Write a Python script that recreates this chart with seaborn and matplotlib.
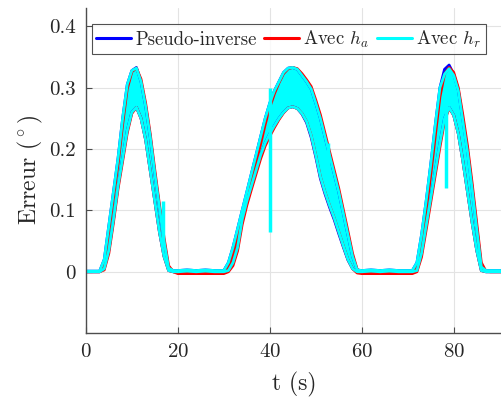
import matplotlib
matplotlib.use("Agg")
import matplotlib.pyplot as plt
import seaborn as sns

# time grid (s)
t = [0, 2,
     3, 4, 5, 6, 7, 8, 9, 10, 11, 12, 13, 14, 15, 16, 17, 18, 19,
     20, 22, 24, 26, 28,
     29, 30, 31, 32, 33, 34, 35, 36, 37, 38, 39, 40, 41, 42, 43, 44,
     45, 46, 47, 48, 49, 50, 51, 52, 53, 54, 55, 56, 57, 58, 59, 60,
     62, 64, 66, 68, 70,
     71, 72, 73, 74, 75, 76, 77, 78, 79, 80, 81, 82, 83, 84, 85, 86, 87, 88,
     90.5]

# Pseudo-inverse : upper / lower envelope of the oscillation
blue_hi = [0.001, 0.001,
           0.001, 0.02, 0.075, 0.13, 0.185, 0.25, 0.305, 0.328, 0.333, 0.31, 0.27, 0.22, 0.16, 0.105, 0.05, 0.006, 0.002,
           0.002, 0.003, 0.002, 0.003, 0.002,
           0.002, 0.002, 0.015, 0.04, 0.07, 0.1, 0.13, 0.16, 0.19, 0.22, 0.25, 0.275, 0.295, 0.31, 0.325, 0.332,
           0.333, 0.33, 0.32, 0.31, 0.298, 0.275, 0.25, 0.22, 0.19, 0.16, 0.13, 0.095, 0.06, 0.025, 0.003, 0.002,
           0.003, 0.002, 0.003, 0.002, 0.002,
           0.002, 0.015, 0.06, 0.115, 0.175, 0.24, 0.3, 0.33, 0.337, 0.322, 0.296, 0.247, 0.197, 0.137, 0.072, 0.008, 0.002, 0.002,
           0.002]
blue_lo = [0.0, 0.0,
           0.0, 0.005, 0.035, 0.085, 0.14, 0.185, 0.23, 0.26, 0.268, 0.25, 0.215, 0.165, 0.115, 0.065, 0.025, 0.002, 0.0,
           0.0, 0.001, 0.0, 0.001, 0.0,
           0.0, 0.0, 0.002, 0.015, 0.04, 0.085, 0.115, 0.14, 0.165, 0.19, 0.21, 0.225, 0.238, 0.25, 0.26, 0.267,
           0.269, 0.266, 0.257, 0.243, 0.219, 0.187, 0.152, 0.127, 0.105, 0.085, 0.062, 0.04, 0.019, 0.005, 0.0, 0.0,
           0.001, 0.0, 0.001, 0.0, 0.0,
           0.0, 0.002, 0.03, 0.075, 0.12, 0.165, 0.21, 0.25, 0.268, 0.255, 0.225, 0.18, 0.13, 0.08, 0.035, 0.002, 0.0, 0.0,
           0.0]

# Avec h_a
red_hi = [0.0, 0.0,
          0.0, 0.012, 0.065, 0.12, 0.175, 0.24, 0.298, 0.326, 0.332, 0.314, 0.275, 0.225, 0.166, 0.11, 0.056, 0.01, 0.0,
          -0.001, -0.001, -0.001, -0.001, -0.001,
          -0.001, -0.001, 0.006, 0.028, 0.058, 0.088, 0.118, 0.148, 0.178, 0.208, 0.24, 0.268, 0.29, 0.308, 0.323, 0.331,
          0.333, 0.331, 0.323, 0.313, 0.302, 0.28, 0.256, 0.226, 0.196, 0.166, 0.136, 0.101, 0.066, 0.03, 0.004, -0.001,
          -0.001, -0.001, -0.001, -0.001, -0.001,
          -0.001, 0.005, 0.045, 0.1, 0.158, 0.222, 0.285, 0.322, 0.333, 0.325, 0.3, 0.255, 0.205, 0.145, 0.08, 0.015, 0.001, 0.0,
          0.0]
red_lo = [0.0, 0.0,
          0.0, 0.003, 0.03, 0.08, 0.135, 0.18, 0.226, 0.258, 0.268, 0.25, 0.215, 0.165, 0.115, 0.065, 0.025, 0.002, 0.0,
          -0.003, -0.003, -0.003, -0.003, -0.003,
          -0.003, -0.003, 0.0, 0.01, 0.034, 0.077, 0.108, 0.134, 0.159, 0.184, 0.205, 0.221, 0.235, 0.248, 0.259, 0.267,
          0.269, 0.266, 0.258, 0.245, 0.222, 0.19, 0.155, 0.13, 0.108, 0.088, 0.065, 0.042, 0.02, 0.005, -0.002, -0.003,
          -0.003, -0.003, -0.003, -0.003, -0.003,
          -0.003, 0.0, 0.024, 0.068, 0.113, 0.158, 0.203, 0.245, 0.267, 0.255, 0.225, 0.18, 0.13, 0.08, 0.035, 0.002, 0.0, 0.0,
          0.0]

# Avec h_r
cyan_hi = [0.001, 0.001,
           0.001, 0.02, 0.075, 0.13, 0.185, 0.25, 0.305, 0.328, 0.332, 0.31, 0.27, 0.22, 0.16, 0.105, 0.05, 0.006, 0.002,
           0.002, 0.003, 0.002, 0.003, 0.002,
           0.002, 0.002, 0.015, 0.04, 0.07, 0.1, 0.13, 0.16, 0.19, 0.22, 0.25, 0.275, 0.295, 0.31, 0.325, 0.332,
           0.333, 0.33, 0.32, 0.31, 0.298, 0.275, 0.25, 0.22, 0.19, 0.16, 0.13, 0.095, 0.06, 0.025, 0.003, 0.002,
           0.003, 0.002, 0.003, 0.002, 0.002,
           0.002, 0.015, 0.06, 0.115, 0.175, 0.24, 0.3, 0.322, 0.331, 0.32, 0.295, 0.245, 0.195, 0.135, 0.07, 0.008, 0.002, 0.002,
           0.002]
cyan_lo = [0.0, 0.0,
           0.0, 0.005, 0.035, 0.085, 0.14, 0.185, 0.23, 0.26, 0.268, 0.25, 0.215, 0.165, 0.115, 0.065, 0.025, 0.002, 0.0,
           0.0, 0.001, 0.0, 0.001, 0.0,
           0.0, 0.0, 0.002, 0.015, 0.04, 0.085, 0.115, 0.14, 0.165, 0.19, 0.21, 0.225, 0.238, 0.25, 0.26, 0.267,
           0.269, 0.266, 0.258, 0.245, 0.222, 0.19, 0.155, 0.13, 0.108, 0.088, 0.065, 0.042, 0.02, 0.005, 0.0, 0.0,
           0.001, 0.0, 0.001, 0.0, 0.0,
           0.0, 0.002, 0.03, 0.075, 0.12, 0.165, 0.21, 0.25, 0.268, 0.255, 0.225, 0.18, 0.13, 0.08, 0.035, 0.002, 0.0, 0.0,
           0.0]

# short glitches of the h_r run
glitch_t = [16.8, 40.0, 52.6, 78.3]
glitch_lo = [0.04, 0.065, 0.16, 0.136]
glitch_hi = [0.115, 0.30, 0.21, 0.31]

labels = ["Pseudo-inverse", r"Avec $h_a$", r"Avec $h_r$"]
colors = ["#0000ff", "#ff0000", "#00ffff"]
xtick_vals = [0, 20, 40, 60, 80]
ytick_vals = [0, 0.1, 0.2, 0.3, 0.4]
ytick_labels = ["0", "0.1", "0.2", "0.3", "0.4"]

sns.set_style("ticks")
plt.rcParams["font.family"] = ["cmr10", "DejaVu Serif"]
plt.rcParams["mathtext.fontset"] = "cm"
plt.rcParams["axes.unicode_minus"] = False
plt.rcParams["axes.formatter.use_mathtext"] = True

fig = plt.figure(figsize=(5.02, 3.98), dpi=100)
ax = fig.add_axes([0.171, 0.163, 0.829, 0.817])

series = [(blue_hi, blue_lo), (red_hi, red_lo), (cyan_hi, cyan_lo)]
handles = []
for (hi, lo), col, lab in zip(series, colors, labels):
    ax.fill_between(t, lo, hi, color=col, lw=0)
    sns.lineplot(x=t, y=lo, color=col, lw=2, ax=ax, legend=False)
    sns.lineplot(x=t, y=hi, color=col, lw=2, ax=ax, label=lab)
    handles.append(ax.lines[-1])

ax.vlines(glitch_t, glitch_lo, glitch_hi, color=colors[2], lw=2.5)

ax.set_xlim(0, 90.5)
ax.set_ylim(-0.1, 0.43)
ax.set_xticks(xtick_vals)
ax.set_yticks(ytick_vals)
ax.set_yticklabels(ytick_labels)
ax.grid(True, color="#e3e3e3", lw=0.8)
ax.set_axisbelow(True)
for s in ["top", "right"]:
    ax.spines[s].set_visible(False)
for s in ["left", "bottom"]:
    ax.spines[s].set_color("#4d4d4d")
    ax.spines[s].set_linewidth(1.0)
ax.tick_params(direction="in", length=4, width=0.8, color="#4d4d4d",
               labelsize=15, labelcolor="#262626", pad=7)

ax.set_xlabel("t (s)", fontsize=17, color="#262626", labelpad=8)
ax.set_ylabel(r"Erreur $(^\circ)$", fontsize=17, color="#262626", labelpad=3)

leg = ax.legend(handles=handles, labels=labels, loc="upper left",
                bbox_to_anchor=(0.014, 0.951), borderaxespad=0, ncol=3,
                fontsize=13.5, frameon=True, fancybox=False,
                handlelength=1.85, handletextpad=0.22, columnspacing=0.42,
                borderpad=0.25)
leg.get_frame().set_edgecolor("#262626")
leg.get_frame().set_linewidth(0.8)
for h in leg.get_lines():
    h.set_linewidth(2.2)

fig.savefig("out.png", dpi=100)
